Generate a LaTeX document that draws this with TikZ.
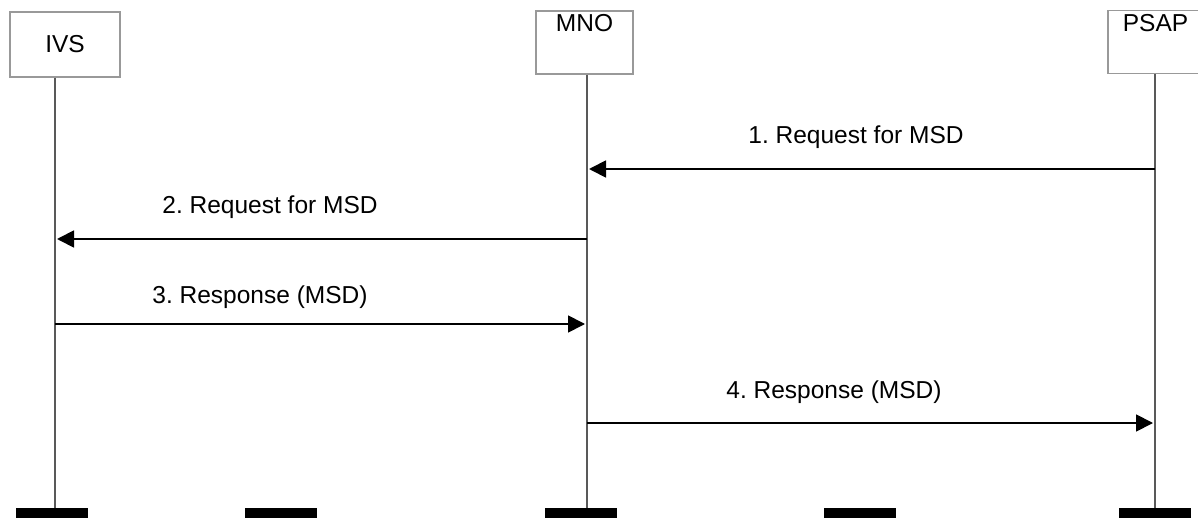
\documentclass[tikz,border=0pt]{standalone}
\usepackage{fontspec}
\setmainfont{Liberation Sans}
\usetikzlibrary{arrows.meta}
\usetikzlibrary{positioning}
\frenchspacing

\begin{document}
\begin{tikzpicture}[x=1pt, y=-1pt,
    every node/.style={font=\fontsize{24.5}{28}\selectfont},
    lifebox/.style={draw=black!40, line width=1.2pt, minimum width=97pt, minimum height=63pt, inner sep=0pt},
    lifeline/.style={draw=black!65, line width=1.8pt},
    msg/.style={draw=black, line width=1.8pt, -{Triangle[length=17pt,width=17pt]}},
    endbar/.style={fill=black, minimum width=72pt, minimum height=10pt, inner sep=0pt}]
    \useasboundingbox (0,0) rectangle (1198,518);

    % actors
    \node[lifebox, minimum width=110pt, minimum height=65pt] (ivs) at (65,44.5) {IVS};
    \node[lifebox] (mno) at (584.5,42.5) {};
    \node[anchor=north, inner sep=4pt] (mnotext) at (mno.north) {MNO};
    \node[lifebox, minimum width=95pt] (psap) at (1155.5,42) {};
    \node[anchor=north, inner sep=4pt] (psaptext) at (psap.north) {PSAP};

    % lifeline ends
    \coordinate (ivsend) at (55,508);
    \coordinate (mnoend) at (587,508);
    \coordinate (psapend) at (1155,508);
    \draw[lifeline] (ivsend |- ivs.south) -- (ivsend);
    \draw[lifeline] (mnoend |- mno.south) -- (mnoend);
    \draw[lifeline] (psapend |- psap.south) -- (psapend);

    \node[endbar, anchor=north] (bar1) at (52,508) {};
    \node[endbar, anchor=north] (bar2) at (281,508) {};
    \node[endbar, anchor=north] (bar3) at (581,508) {};
    \node[endbar, anchor=north] (bar4) at (860,508) {};
    \node[endbar, anchor=north] (bar5) at (1155,508) {};

    % messages
    \coordinate (m1a) at (1155,169);
    \coordinate (m1b) at (589,169);
    \coordinate (m2a) at (587,239);
    \coordinate (m2b) at (57,239);
    \coordinate (m3a) at (55,324);
    \coordinate (m3b) at (585,324);
    \coordinate (m4a) at (587,423);
    \coordinate (m4b) at (1153,423);

    \draw[msg] (m1a) -- (m1b);
    \draw[msg] (m2a) -- (m2b);
    \draw[msg] (m3a) -- (m3b);
    \draw[msg] (m4a) -- (m4b);

    \node (l1) at (856,137) {1. Request for MSD};
    \node (l2) at (270,207) {2. Request for MSD};
    \node (l3) at (260,297) {3. Response (MSD)};
    \node (l4) at (834,392) {4. Response (MSD)};
\end{tikzpicture}
\end{document}
